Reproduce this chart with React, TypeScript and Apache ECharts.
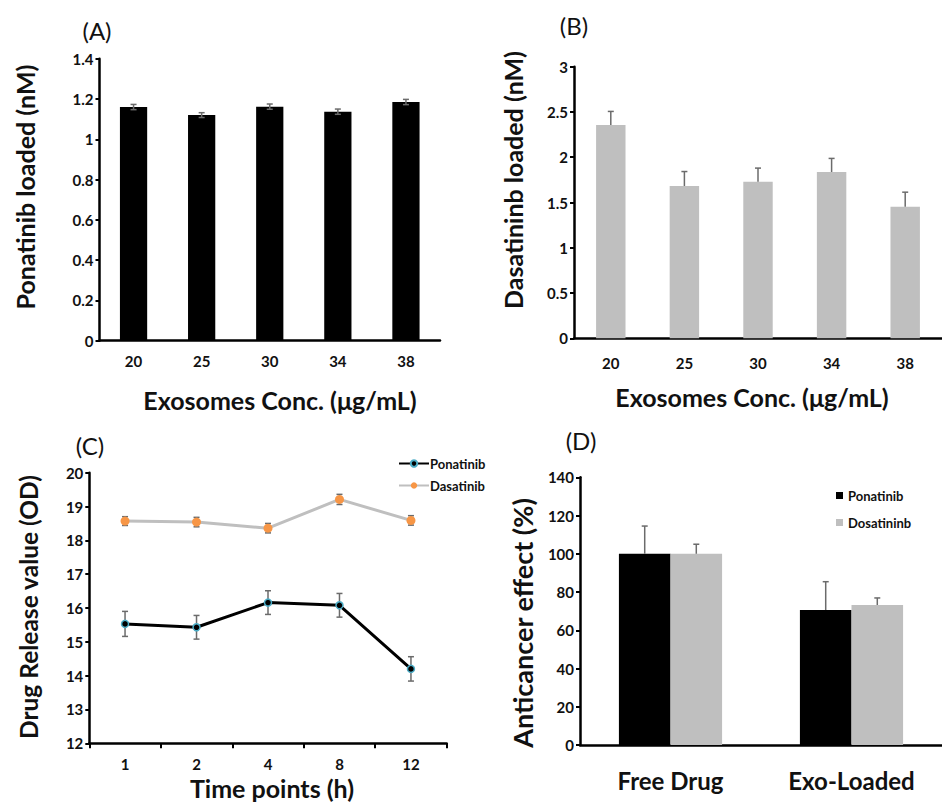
import React, { useEffect, useRef } from "react";
import * as echarts from "echarts";

// Panel A
const concA = ["20", "25", "30", "34", "38"];
const ponatinibLoaded = [1.16, 1.12, 1.162, 1.137, 1.185];
const ponatinibLoadedErr = [0.013, 0.012, 0.013, 0.013, 0.013];
// Panel B
const concB = ["20", "25", "30", "34", "38"];
const dasatinibLoaded = [2.356, 1.682, 1.73, 1.837, 1.454];
const dasatinibLoadedErr = [0.15, 0.16, 0.15, 0.15, 0.16];
// Panel C
const timePoints = ["1", "2", "4", "8", "12"];
const ponatinibRelease = [15.53, 15.43, 16.16, 16.08, 14.2];
const ponatinibReleaseErr = [0.37, 0.35, 0.35, 0.35, 0.36];
const dasatinibRelease = [18.57, 18.54, 18.36, 19.21, 18.59];
const dasatinibReleaseErr = [0.13, 0.14, 0.14, 0.15, 0.14];
// Panel D
const groupsD = ["Free Drug", "Exo-Loaded"];
const ponatinibEffect = [100, 70.6];
const ponatinibEffectErr = [14.5, 14.8];
const dosatininbEffect = [100, 73.2];
const dosatininbEffectErr = [5, 3.7];

const FONT = "Lato";
const TXT = "#111";
const ERR = "#6b6b6b";

function errRender(oneSided: boolean, capHalf: number, offsetFrac: number) {
  return (params: any, api: any) => {
    const x = api.value(0);
    const y = api.value(1);
    const e = api.value(2);
    const band = api.size([1, 0])[0];
    const top = api.coord([x, y + e]);
    const bot = api.coord([x, oneSided ? y : y - e]);
    const cx = top[0] + offsetFrac * band;
    const style = { stroke: ERR, lineWidth: 1.5 };
    const children: any[] = [
      { type: "line", shape: { x1: cx, y1: top[1], x2: cx, y2: bot[1] }, style },
      { type: "line", shape: { x1: cx - capHalf, y1: top[1], x2: cx + capHalf, y2: top[1] }, style },
    ];
    if (!oneSided) {
      children.push({ type: "line", shape: { x1: cx - capHalf, y1: bot[1], x2: cx + capHalf, y2: bot[1] }, style });
    }
    return { type: "group", children };
  };
}

function errData(vals: number[], errs: number[]) {
  return vals.map((v, i) => [i, v, errs[i]]);
}

const axisLineStyle = { show: true, lineStyle: { color: "#000", width: 2.5 } };
const yLabel = { color: TXT, fontFamily: FONT, fontWeight: "bold" as const, fontSize: 15, margin: 6 };

function yAxis(gridIndex: number, min: number, max: number, interval: number) {
  return {
    type: "value",
    gridIndex,
    min,
    max,
    interval,
    axisLine: axisLineStyle,
    axisTick: { show: true, length: 4, lineStyle: { color: "#000", width: 2 } },
    axisLabel: yLabel,
    splitLine: { show: false },
  };
}

function xAxis(gridIndex: number, data: string[], margin: number, fontSize: number, ticks: boolean) {
  return {
    type: "category",
    gridIndex,
    data,
    axisLine: axisLineStyle,
    axisTick: { show: ticks, length: 5, lineStyle: { color: "#000", width: 2 } },
    axisLabel: { color: TXT, fontFamily: FONT, fontWeight: "bold" as const, fontSize, margin },
    splitLine: { show: false },
  };
}

function txt(text: string, x: number, y: number, size: number, bold: boolean, rotate = false) {
  return {
    type: "text",
    x,
    y,
    rotation: rotate ? Math.PI / 2 : 0,
    style: {
      text,
      fill: TXT,
      font: `${bold ? "bold " : ""}${size}px ${FONT}`,
      textAlign: "center",
      textVerticalAlign: "middle",
    },
  };
}

export default function App() {
  const ref = useRef<HTMLDivElement>(null);
  useEffect(() => {
    document.body.style.margin = "0";
    const chart = echarts.init(ref.current!, null, { renderer: "svg" });
    const option: any = {
      animation: false,
      backgroundColor: "#fff",
      grid: [
        { left: 99.5, top: 58.7, width: 340.5, height: 282 },
        { left: 574, top: 66.7, width: 380, height: 271.6 },
        { left: 89.3, top: 472.7, width: 357.4, height: 270.6 },
        { left: 580, top: 477.3, width: 372, height: 267.7 },
      ],
      xAxis: [
        xAxis(0, concA, 13, 15, false),
        xAxis(1, concB, 17, 15, false),
        xAxis(2, timePoints, 13, 15, true),
        xAxis(3, groupsD, 23, 24, false),
      ],
      yAxis: [yAxis(0, 0, 1.4, 0.2), yAxis(1, 0, 3, 0.5), yAxis(2, 12, 20, 1), yAxis(3, 0, 140, 20)],
      legend: [
        {
          data: ["Ponatinib", "Dasatinib"],
          left: 393,
          top: 452,
          orient: "vertical",
          itemWidth: 30,
          itemHeight: 8,
          itemGap: 9,
          textStyle: { color: TXT, fontFamily: FONT, fontWeight: "bold", fontSize: 13, padding: [0, 0, 0, -4] },
          selectedMode: false,
        },
      ],
      graphic: [
        txt("(A)", 97, 30, 24, false),
        txt("(B)", 574, 25, 24, false),
        txt("(C)", 90, 445, 24, false),
        txt("(D)", 581, 440, 24, false),
        txt("Ponatinib loaded (nM)", 25, 187, 25, true, true),
        txt("Exosomes Conc. (μg/mL)", 280, 400, 25, true),
        txt("Dasatininb loaded (nM)", 513, 180, 25, true, true),
        txt("Exosomes Conc. (μg/mL)", 752, 397, 25, true),
        txt("Drug Release value (OD)", 28, 607, 24.5, true, true),
        txt("Time points (h)", 272, 788, 25, true),
        txt("Anticancer effect (%)", 522, 623, 27, true, true),
        { type: "rect", shape: { x: 836, y: 492, width: 7, height: 7 }, style: { fill: "#000" } },
        { type: "rect", shape: { x: 836, y: 519, width: 7, height: 7 }, style: { fill: "#BFBFBF" } },
        {
          type: "text",
          x: 848,
          y: 496,
          style: { text: "Ponatinib", fill: TXT, font: `bold 13px ${FONT}`, textVerticalAlign: "middle" },
        },
        {
          type: "text",
          x: 848,
          y: 523,
          style: { text: "Dosatininb", fill: TXT, font: `bold 13px ${FONT}`, textVerticalAlign: "middle" },
        },
      ],
      series: [
        // A
        {
          type: "bar",
          name: "A",
          xAxisIndex: 0,
          yAxisIndex: 0,
          data: ponatinibLoaded,
          barWidth: "40%",
          itemStyle: { color: "#000" },
        },
        {
          type: "custom",
          xAxisIndex: 0,
          yAxisIndex: 0,
          data: errData(ponatinibLoaded, ponatinibLoadedErr),
          encode: { x: 0, y: 1 },
          renderItem: errRender(false, 3, 0),
          z: 5,
        },
        // B
        {
          type: "bar",
          name: "B",
          xAxisIndex: 1,
          yAxisIndex: 1,
          data: dasatinibLoaded,
          barWidth: "40%",
          itemStyle: { color: "#BFBFBF" },
        },
        {
          type: "custom",
          xAxisIndex: 1,
          yAxisIndex: 1,
          data: errData(dasatinibLoaded, dasatinibLoadedErr),
          encode: { x: 0, y: 1 },
          renderItem: errRender(true, 3, 0),
          z: 5,
        },
        // C
        {
          type: "custom",
          xAxisIndex: 2,
          yAxisIndex: 2,
          data: errData(ponatinibRelease, ponatinibReleaseErr),
          encode: { x: 0, y: 1 },
          renderItem: errRender(false, 3, 0),
          z: 1,
        },
        {
          type: "custom",
          xAxisIndex: 2,
          yAxisIndex: 2,
          data: errData(dasatinibRelease, dasatinibReleaseErr),
          encode: { x: 0, y: 1 },
          renderItem: errRender(false, 3, 0),
          z: 1,
        },
        {
          type: "line",
          name: "Ponatinib",
          xAxisIndex: 2,
          yAxisIndex: 2,
          data: ponatinibRelease,
          symbol: "circle",
          symbolSize: 7,
          lineStyle: { color: "#000", width: 3 },
          itemStyle: { color: "#000", borderColor: "#4BACC6", borderWidth: 1.5 },
          z: 3,
        },
        {
          type: "line",
          name: "Dasatinib",
          xAxisIndex: 2,
          yAxisIndex: 2,
          data: dasatinibRelease,
          symbol: "circle",
          symbolSize: 9,
          lineStyle: { color: "#BFBFBF", width: 3 },
          itemStyle: { color: "#F79646", borderColor: "#F79646", borderWidth: 0 },
          z: 3,
        },
        // D
        {
          type: "bar",
          name: "D-Ponatinib",
          xAxisIndex: 3,
          yAxisIndex: 3,
          data: ponatinibEffect,
          barGap: "0%",
          barCategoryGap: "43%",
          itemStyle: { color: "#000" },
        },
        {
          type: "bar",
          name: "D-Dosatininb",
          xAxisIndex: 3,
          yAxisIndex: 3,
          data: dosatininbEffect,
          barGap: "0%",
          barCategoryGap: "43%",
          itemStyle: { color: "#BFBFBF" },
        },
        {
          type: "custom",
          xAxisIndex: 3,
          yAxisIndex: 3,
          data: errData(ponatinibEffect, ponatinibEffectErr),
          encode: { x: 0, y: 1 },
          renderItem: errRender(true, 3, -0.1425),
          z: 5,
        },
        {
          type: "custom",
          xAxisIndex: 3,
          yAxisIndex: 3,
          data: errData(dosatininbEffect, dosatininbEffectErr),
          encode: { x: 0, y: 1 },
          renderItem: errRender(true, 3, 0.1425),
          z: 5,
        },
      ],
    };
    chart.setOption(option);
    return () => chart.dispose();
  }, []);
  return <div ref={ref} style={{ width: 942, height: 802 }} />;
}
